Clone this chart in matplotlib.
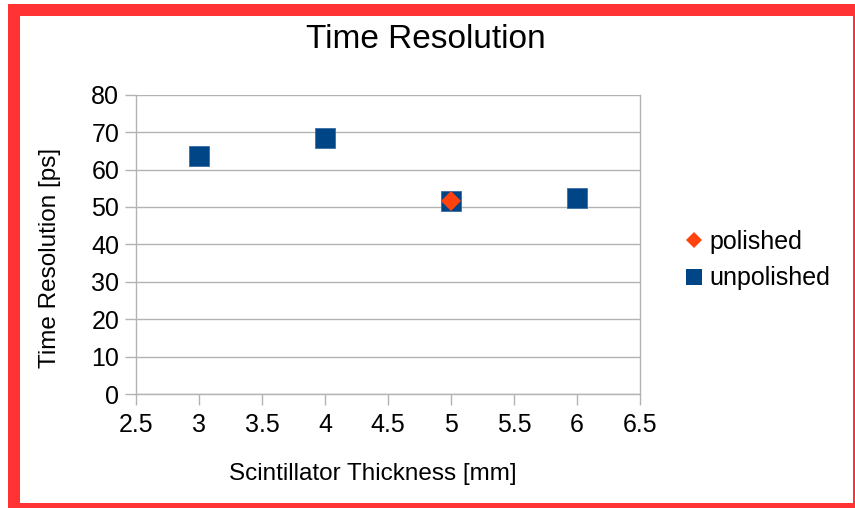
import matplotlib
matplotlib.use("Agg")
import matplotlib.pyplot as plt
from matplotlib.patches import Rectangle
from matplotlib.lines import Line2D

plt.rcParams['font.family'] = ['Liberation Sans', 'DejaVu Sans']

# Data
polished_x = [5]
polished_y = [51.5]
unpolished_x = [3, 4, 5, 6]
unpolished_y = [63.7, 68.3, 51.5, 52.3]
x_ticks = [2.5, 3, 3.5, 4, 4.5, 5, 5.5, 6, 6.5]
x_tick_labels = ["2.5", "3", "3.5", "4", "4.5", "5", "5.5", "6", "6.5"]
y_ticks = [0, 10, 20, 30, 40, 50, 60, 70, 80]

W, H = 855, 508
fig = plt.figure(figsize=(W / 100, H / 100), dpi=100)
fig.patch.set_facecolor('white')

red = '#ff3333'
def band(x0, y0, x1, y1):
    fig.patches.append(Rectangle((x0 / W, 1 - y1 / H), (x1 - x0) / W, (y1 - y0) / H,
                                 transform=fig.transFigure, facecolor=red,
                                 edgecolor='none', zorder=0))
band(8, 4, 20, 508)      # left
band(8, 4, 855, 16)      # top
band(852.5, 4, 855, 508) # right
band(8, 502.5, 855, 508) # bottom

ax = fig.add_axes([136 / W, 1 - 394 / H, (640 - 136) / W, (394 - 94.7) / H])
ax.set_xlim(2.5, 6.5)
ax.set_ylim(0, 80)
ax.set_xticks(x_ticks)
ax.set_xticklabels(x_tick_labels)
ax.set_yticks(y_ticks)

grid_c = '#b3b3b3'
ax.grid(axis='y', color=grid_c, linewidth=1.0)
ax.set_axisbelow(True)
ax.spines['top'].set_visible(False)
for s in ['left', 'right', 'bottom']:
    ax.spines[s].set_color(grid_c)
    ax.spines[s].set_linewidth(1.0)
ax.tick_params(axis='both', colors=grid_c, labelcolor='black', labelsize=18,
               length=8, width=1.0)
ax.tick_params(axis='x', pad=6)
ax.tick_params(axis='y', pad=4)

ax.plot(unpolished_x, unpolished_y, linestyle='none', marker='s', markersize=14.5,
        markerfacecolor='#004586', markeredgecolor='#3b6ea5', markeredgewidth=0.6,
        label='unpolished', zorder=3)
ax.plot(polished_x, polished_y, linestyle='none', marker='D', markersize=10,
        markerfacecolor='#ff420e', markeredgecolor='#ff420e', markeredgewidth=0,
        label='polished', zorder=4)

fig.text(373 / W, 1 - 474 / H, 'Scintillator Thickness [mm]', fontsize=17.5,
         ha='center', va='center')
fig.text(50 / W, 1 - 257.5 / H, 'Time Resolution [ps]', fontsize=17.5,
         ha='center', va='center', rotation=90)

fig.text(426 / W, 1 - 47.7 / H, 'Time Resolution', fontsize=24,
         ha='center', va='baseline')

h_pol = Line2D([], [], linestyle='none', marker='D', markersize=8,
               markerfacecolor='#ff420e', markeredgewidth=0)
h_unp = Line2D([], [], linestyle='none', marker='s', markersize=11,
               markerfacecolor='#004586', markeredgewidth=0)
fig.legend([h_pol, h_unp], ['polished', 'unpolished'], loc='center left',
           bbox_to_anchor=(674 / W, 1 - 260 / H), frameon=False, fontsize=18,
           handlelength=0.6, handletextpad=0.3, labelspacing=0.5, borderpad=0)

fig.savefig('out.png', dpi=100, facecolor='white')
